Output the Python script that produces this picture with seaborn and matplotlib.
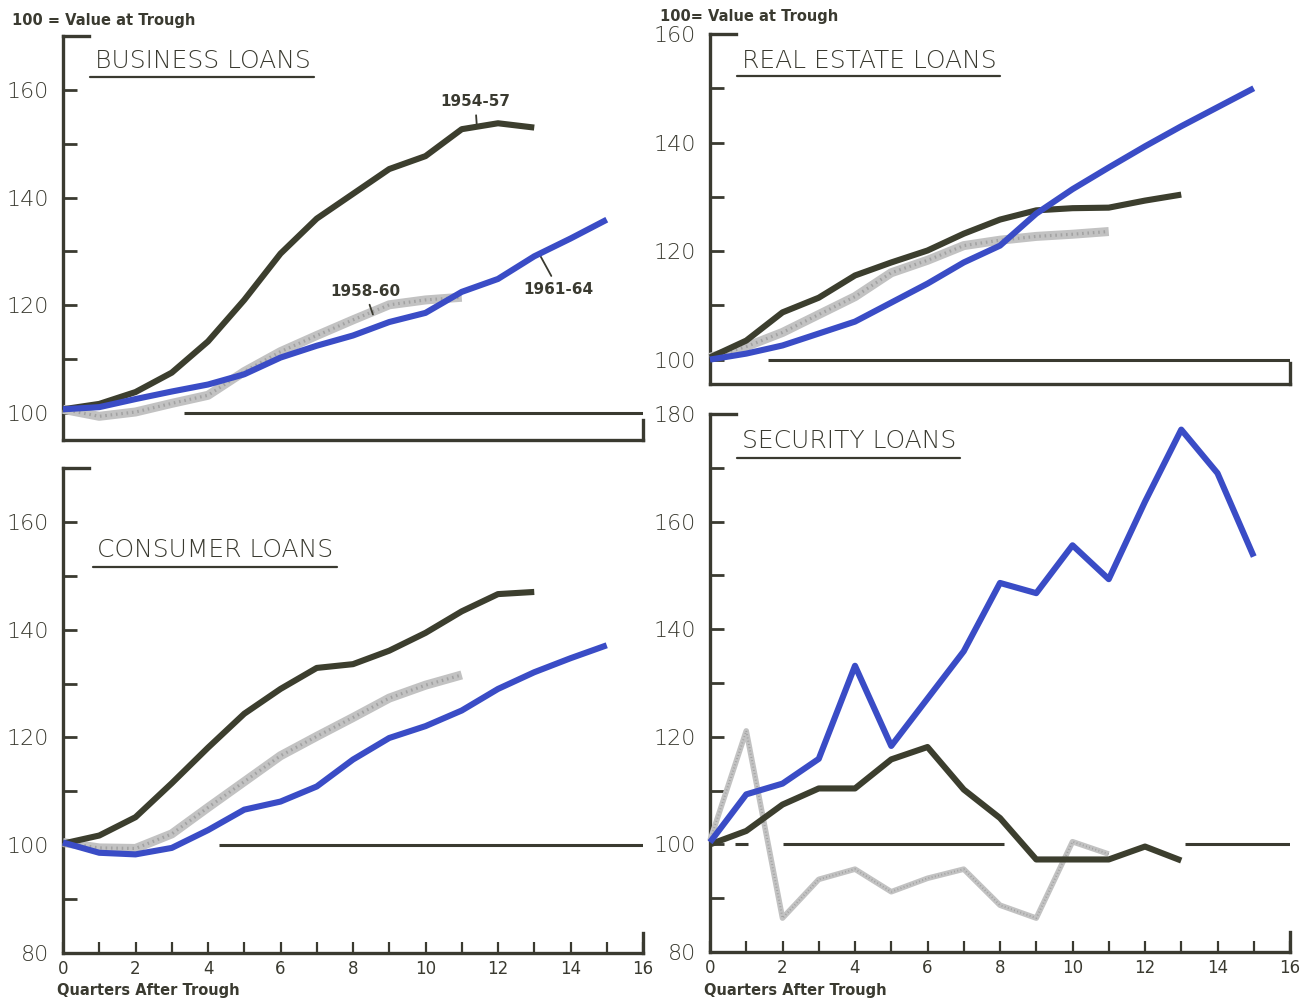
import matplotlib
matplotlib.use("Agg")
import matplotlib.pyplot as plt
from matplotlib.ticker import MultipleLocator
import seaborn as sns
import pandas as pd

sns.set_theme(style="white")
plt.rcParams['font.family'] = ['DejaVu Sans']

# ---------------------------------------------------------------------------
# Loan indexes, 100 = value at the cyclical trough, by quarter after trough
# ---------------------------------------------------------------------------
business_1954_57 = [100.7, 101.7, 103.9, 107.5, 113.3, 121.0, 129.6, 136.1, 140.7,
                    145.3, 147.7, 152.7, 153.8, 153.0]
business_1958_60 = [100.7, 99.4, 100.2, 101.8, 103.3, 107.7, 111.4, 114.4, 117.3,
                    120.1, 121.0, 121.5]
business_1961_64 = [100.7, 101.1, 102.6, 104.0, 105.3, 107.2, 110.3, 112.5, 114.4,
                    116.9, 118.6, 122.5, 124.9, 129.1, 132.4, 135.9]

real_estate_1954_57 = [100.4, 103.5, 108.7, 111.4, 115.5, 117.9, 120.1, 123.2, 125.8,
                       127.5, 127.9, 128.0, 129.3, 130.4]
real_estate_1958_60 = [100.4, 102.4, 105.0, 108.3, 111.6, 116.0, 118.3, 121.0, 122.0,
                       122.7, 123.1, 123.6]
real_estate_1961_64 = [100.0, 101.1, 102.6, 104.8, 107.0, 110.5, 114.0, 117.9, 121.0,
                       126.9, 131.4, 135.4, 139.3, 143.0, 146.5, 150.0]

consumer_1954_57 = [100.3, 101.8, 105.2, 111.5, 118.1, 124.4, 129.0, 132.9, 133.6,
                    136.1, 139.4, 143.4, 146.6, 147.0]
consumer_1958_60 = [100.5, 99.5, 99.4, 102.1, 107.0, 111.8, 116.6, 120.2, 123.7,
                    127.3, 129.7, 131.6]
consumer_1961_64 = [100.5, 98.6, 98.3, 99.5, 102.8, 106.6, 108.1, 110.9, 115.9,
                    119.9, 122.1, 125.0, 129.0, 132.1, 134.7, 137.1]

security_1954_57 = [100.0, 102.5, 107.4, 110.4, 110.4, 115.8, 118.1, 110.2, 104.9,
                    97.2, 97.2, 97.2, 99.6, 97.0]
security_1958_60 = [100.7, 121.1, 86.3, 93.5, 95.4, 91.2, 93.7, 95.4, 88.7,
                    86.3, 100.5, 98.2]
security_1961_64 = [100.4, 109.3, 111.3, 115.9, 133.2, 118.3, 127.1, 135.9, 148.6,
                    146.7, 155.6, 149.3, 163.7, 177.1, 169.0, 153.5]

cycle_labels = ["1954-57", "1958-60", "1961-64"]
panel_titles = ["BUSINESS LOANS", "REAL ESTATE LOANS", "CONSUMER LOANS", "SECURITY LOANS"]

INK = '#3a3a30'
DARK = '#3c3e2e'
BLUE = '#3a4cc6'
GRAY = '#c2c2c2'

W, H = 1304, 998
fig = plt.figure(figsize=(W / 100, H / 100), dpi=100)
fig.patch.set_facecolor('white')


def px_axes(left, top, right, bottom):
    return fig.add_axes([left / W, 1 - bottom / H, (right - left) / W, (bottom - top) / H])


def long_frame(series):
    rows = []
    for label, vals in zip(cycle_labels, series):
        for q, v in enumerate(vals):
            rows.append({"quarter": q, "index": v, "cycle": label})
    return pd.DataFrame(rows)


def draw_panel(ax, title, series, ylim, baseline_spans, title_xy, gray_lw=6.5,
               show_x=False):
    df = long_frame(series)
    ax.set_facecolor('white')

    # level of the trough
    for x0, x1 in baseline_spans:
        ax.hlines(100, x0, x1, color=INK, lw=2.2, zorder=2)

    styles = {"1958-60": (GRAY, gray_lw, 3),
              "1954-57": (DARK, 4.4, 4),
              "1961-64": (BLUE, 4.4, 5)}
    for cyc in ["1958-60", "1954-57", "1961-64"]:
        col, lw, z = styles[cyc]
        sub = df[df["cycle"] == cyc]
        sns.lineplot(data=sub, x="quarter", y="index", ax=ax, color=col, lw=lw,
                     zorder=z, clip_on=False, legend=False,
                     solid_joinstyle='round', solid_capstyle='butt')
        if cyc == "1958-60":
            # stippled texture of the grey band
            sns.lineplot(data=sub, x="quarter", y="index", ax=ax, color='#a2a2a2',
                         lw=gray_lw * 0.35, ls=(0, (0.5, 1.2)), zorder=z,
                         clip_on=False, legend=False)

    ax.set_xlim(0, 16)
    ax.set_ylim(*ylim)
    ax.set_xlabel("")
    ax.set_ylabel("")

    for side in ["left", "bottom", "top", "right"]:
        ax.spines[side].set_visible(True)
        ax.spines[side].set_color(INK)
        ax.spines[side].set_linewidth(2.4)
    ax.spines["top"].set_bounds(0, 0.72)
    ax.spines["right"].set_bounds(ylim[0], ylim[0] + 3.8)

    ax.yaxis.set_major_locator(MultipleLocator(20))
    ax.yaxis.set_minor_locator(MultipleLocator(10))
    ax.tick_params(axis='y', which='both', direction='in', length=10, width=2,
                   color=INK, left=True, right=False, labelsize=16,
                   labelcolor=INK, pad=10)
    for lab in ax.get_yticklabels():
        lab.set_fontweight('light')

    if show_x:
        ax.xaxis.set_major_locator(MultipleLocator(2))
        ax.xaxis.set_minor_locator(MultipleLocator(1))
        ax.tick_params(axis='x', which='both', direction='in', length=8, width=1.6,
                       color=INK, bottom=True, top=False, labelsize=12,
                       labelcolor=INK, pad=5)
    else:
        ax.tick_params(axis='x', which='both', bottom=False, top=False,
                       labelbottom=False)

    t = ax.text(title_xy[0], title_xy[1], title, transform=ax.transAxes,
                fontsize=18, color=INK, ha='left', va='center', fontweight='light')
    return t


ax_bus = px_axes(63, 36, 643, 440)
ax_re = px_axes(710, 34, 1290, 384)
ax_con = px_axes(63, 468, 643, 953)
ax_sec = px_axes(710, 414, 1290, 952)

titles = []
titles.append(draw_panel(ax_bus, panel_titles[0],
                         [business_1954_57, business_1958_60, business_1961_64],
                         (95, 170), [(3.35, 16)], (0.055, 0.938)))
titles.append(draw_panel(ax_re, panel_titles[1],
                         [real_estate_1954_57, real_estate_1958_60, real_estate_1961_64],
                         (95.5, 160), [(1.6, 16.1)], (0.055, 0.923)))
titles.append(draw_panel(ax_con, panel_titles[2],
                         [consumer_1954_57, consumer_1958_60, consumer_1961_64],
                         (80, 170), [(4.3, 16)], (0.059, 0.831), show_x=True))
titles.append(draw_panel(ax_sec, panel_titles[3],
                         [security_1954_57, security_1958_60, security_1961_64],
                         (80, 180), [(0.7, 1.05), (2.0, 8.1), (13.1, 16.1)],
                         (0.055, 0.950), gray_lw=4.0, show_x=True))

# underline every panel title
fig.canvas.draw()
renderer = fig.canvas.get_renderer()
for t in titles:
    ax = t.axes
    bb = t.get_window_extent(renderer).transformed(ax.transAxes.inverted())
    y = bb.y0 - 0.010
    ax.plot([bb.x0 - 0.008, bb.x1 + 0.006], [y, y], transform=ax.transAxes,
            color=INK, lw=1.6, clip_on=False)

# cycle labels on the business-loan panel
lab_kw = dict(fontsize=11, color=INK, fontweight='semibold', ha='center', va='center',
              arrowprops=dict(arrowstyle='-', color=INK, lw=1.3, shrinkA=2, shrinkB=0))
ax_bus.annotate(cycle_labels[0], xy=(11.42, 152.9), xytext=(11.37, 157.8), **lab_kw)
ax_bus.annotate(cycle_labels[1], xy=(8.55, 118.3), xytext=(8.33, 122.6), **lab_kw)
ax_bus.annotate(cycle_labels[2], xy=(13.15, 129.4), xytext=(13.67, 123.0), **lab_kw)

# scale notes and axis captions
note_kw = dict(fontsize=10.5, color=INK, fontweight='bold', ha='left', va='center')
fig.text(12 / W, 1 - 20 / H, "100 = Value at Trough", **note_kw)
fig.text(660 / W, 1 - 16 / H, "100= Value at Trough", **note_kw)
fig.text(57 / W, 1 - 990 / H, "Quarters After Trough", **note_kw)
fig.text(704 / W, 1 - 990 / H, "Quarters After Trough", **note_kw)

fig.savefig("out.png", dpi=100, facecolor='white')
